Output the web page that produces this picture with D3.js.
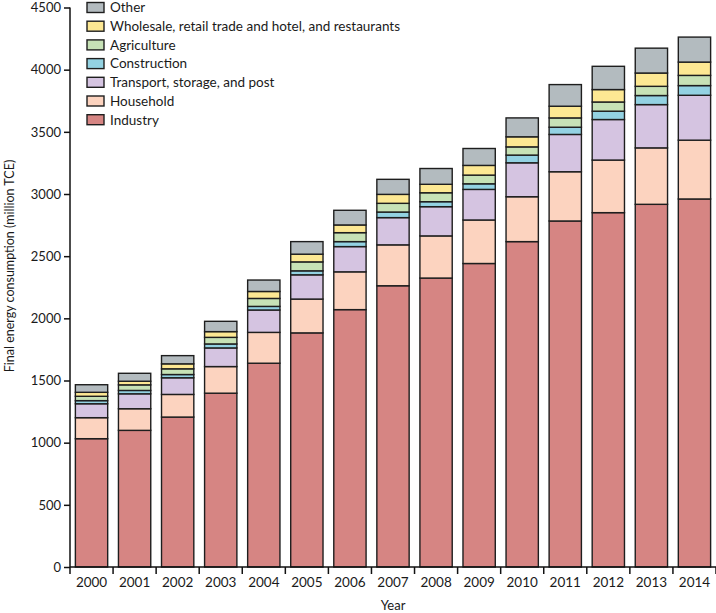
<!DOCTYPE html>
<html><head><meta charset="utf-8">
<script src="https://cdn.jsdelivr.net/npm/d3@7"></script>
<style>body{margin:0;background:#fff}svg{display:block}text{font-family:Lato,"Open Sans",sans-serif;fill:#1a1a1a}</style>
</head><body><svg id="c" width="716" height="613"></svg>
<script>
const years = ["2000","2001","2002","2003","2004","2005","2006","2007","2008","2009","2010","2011","2012","2013","2014"];
const industry     = [1032,1099,1206,1398,1639,1883,2070,2262,2324,2441,2617,2783,2850,2917,2960];
const household    = [169,174,182,214,248,272,304,329,339,350,361,396,423,454,473];
const transport    = [112,120,134,150,180,195,203,219,235,246,273,300,326,348,361];
const construction = [25,27,26,32,29,32,40,45,40,45,62,58,67,73,78];
const agriculture  = [35,45,46,53,64,72,72,70,72,70,66,75,74,74,82];
const wholesale    = [32,29,40,46,56,62,62,72,68,78,81,94,100,107,107];
const other        = [61,64,66,83,92,101,118,121,127,136,152,174,187,200,201];
const seriesNames = ["Industry","Household","Transport, storage, and post","Construction","Agriculture","Wholesale, retail trade and hotel, and restaurants","Other"];
const seriesValues = [industry,household,transport,construction,agriculture,wholesale,other];
const colors = ["#d68583","#fcd3bf","#d5c4e1","#93d2e2","#c7e2b6","#fde893","#b3bbbf"];
const yTicks = [0,500,1000,1500,2000,2500,3000,3500,4000,4500];

const svg = d3.select("#c");
const L = 70, R = 716, T = 7.5, B = 567;
const x = d3.scaleBand().domain(years).range([L, R]).paddingInner(0.25).paddingOuter(0.125);
const y = d3.scaleLinear().domain([0, 4500]).range([B, T]);

const table = years.map((yr, i) => {
  const o = {year: yr};
  seriesNames.forEach((n, j) => o[n] = seriesValues[j][i]);
  return o;
});
const stack = d3.stack().keys(seriesNames)(table);

const g = svg.append("g");
stack.forEach((layer, j) => {
  g.selectAll(null).data(layer).enter().append("rect")
    .attr("x", d => x(d.data.year))
    .attr("width", x.bandwidth())
    .attr("y", d => y(d[1]))
    .attr("height", d => y(d[0]) - y(d[1]))
    .attr("fill", colors[j])
    .attr("stroke", "#1e1e1e")
    .attr("stroke-width", 1.4);
});

// Y axis
const yAxis = svg.append("g").attr("transform", `translate(${L},0)`)
  .call(d3.axisLeft(y).tickValues(yTicks).tickSize(6).tickPadding(3).tickFormat(d3.format("d")));
yAxis.select(".domain").attr("d", `M0,${B}V${T}`).attr("stroke", "#111").attr("stroke-width", 1.5);
yAxis.selectAll(".tick line").attr("stroke", "#111").attr("stroke-width", 1.5);
yAxis.selectAll(".tick text").style("font-family", "Lato, sans-serif").style("font-size", "13px").attr("fill", "#1a1a1a");

// X axis
const xAxis = svg.append("g").attr("transform", `translate(0,${B})`)
  .call(d3.axisBottom(x).tickSize(0).tickPadding(10));
xAxis.select(".domain").attr("d", `M${L},0H${R}`).attr("stroke", "#111").attr("stroke-width", 1.5);
xAxis.selectAll(".tick text").style("font-family", "Lato, sans-serif").style("font-size", "13.5px").attr("fill", "#1a1a1a");
const step = x.step();
const bounds = d3.range(years.length + 1).map(i => L + i * step);
xAxis.selectAll(".bt").data(bounds).enter().append("line")
  .attr("x1", d => d).attr("x2", d => d).attr("y1", 0).attr("y2", 7)
  .attr("stroke", "#111").attr("stroke-width", 1.5);

// axis titles
svg.append("text").attr("x", (L + R) / 2).attr("y", 610).attr("text-anchor", "middle")
  .style("font-size", "13px").text("Year");
svg.append("text").attr("transform", `translate(14,266) rotate(-90)`).attr("text-anchor", "middle")
  .style("font-size", "12.5px").text("Final energy consumption (million TCE)");

// legend (top to bottom: Other ... Industry)
const legendOrder = d3.range(seriesNames.length).reverse();
const lg = svg.append("g");
legendOrder.forEach((j, k) => {
  const cy = 7.5 + k * 18.7;
  lg.append("rect").attr("x", 87).attr("y", cy - 5).attr("width", 17).attr("height", 10)
    .attr("fill", colors[j]).attr("stroke", "#1e1e1e").attr("stroke-width", 1.4);
  lg.append("text").attr("x", 110).attr("y", cy).attr("dy", "0.36em")
    .style("font-size", "13.5px").text(seriesNames[j]);
});
</script></body></html>
